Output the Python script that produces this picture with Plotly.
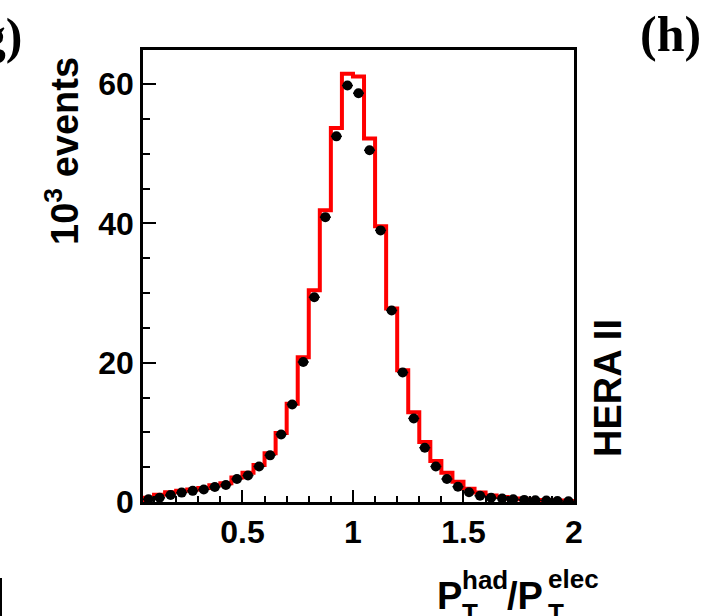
import plotly.graph_objects as go

# ---- data ----
bin_lo = 0.05
bin_width = 0.05
n_bins = 39
mc_hist = [0.6, 1.05, 1.4, 1.6, 1.8, 2.0, 2.4, 2.7, 3.5, 4.2, 5.3, 7.0, 9.9, 14.1,
           20.8, 30.4, 41.9, 53.7, 61.5, 61.1, 52.2, 39.6, 27.8, 18.9, 12.9, 8.6,
           5.9, 4.2, 2.9, 1.9, 1.35, 0.95, 0.7, 0.5, 0.4, 0.3, 0.25, 0.2, 0.15]
data_pts = [0.4, 0.6, 1.0, 1.35, 1.6, 1.8, 2.15, 2.45, 3.3, 3.8, 5.1, 6.7, 9.7, 14.0,
            20.1, 29.4, 40.9, 52.5, 59.8, 58.7, 50.5, 39.0, 27.5, 18.6, 12.0, 7.8,
            5.1, 3.3, 2.2, 1.4, 0.9, 0.6, 0.5, 0.4, 0.3, 0.25, 0.2, 0.15, 0.1]
x_tickvals = [0.5, 1, 1.5, 2]
x_ticktext = ["0.5", "1", "1.5", "2"]
y_tickvals = [0, 20, 40, 60]

edges = [bin_lo + i * bin_width for i in range(n_bins + 1)]
centers = [bin_lo + (i + 0.5) * bin_width for i in range(n_bins)]

# ---- layout geometry ----
W, H = 708, 616
L, R, T, B = 143, 574, 50, 502
PW, PH = R - L, B - T


def px(x):
    return (x - L) / PW


def py(y):
    return (B - y) / PH


SANS = "Liberation Sans"
SERIF = "Liberation Serif"

fig = go.Figure()

# MC histogram (red step line)
fig.add_trace(go.Scatter(
    x=[edges[0]] + edges,
    y=[0] + mc_hist + [mc_hist[-1]],
    mode="lines", line=dict(color="#ff0000", width=4, shape="hv"),
    showlegend=False, hoverinfo="skip"))

# data points
fig.add_trace(go.Scatter(
    x=centers, y=data_pts, mode="markers",
    marker=dict(color="black", size=10, symbol="circle"),
    error_x=dict(type="constant", value=bin_width / 2, thickness=1.5, width=0, color="black"),
    showlegend=False))

axis_common = dict(showline=True, linecolor="black", linewidth=2.5, mirror=True,
                   showgrid=False, zeroline=False, ticks="inside", tickcolor="black",
                   tickwidth=2,
                   tickfont=dict(family=SANS, size=32, color="black", weight="bold"))

fig.update_xaxes(range=[0.05, 2.0], tickvals=x_tickvals, ticktext=x_ticktext,
                 ticklen=12,
                 minor=dict(dtick=0.1, tick0=0, ticks="inside", ticklen=6,
                            tickwidth=2, tickcolor="black"),
                 **axis_common)
fig.update_yaxes(range=[0, 64.9], tickvals=y_tickvals, ticklen=13,
                 minor=dict(dtick=5, tick0=0, ticks="inside", ticklen=7,
                            tickwidth=2, tickcolor="black"),
                 **axis_common)

ann = []
# panel labels
ann.append(dict(text="(g)", x=px(24), y=py(36), xanchor="right", yanchor="middle",
                font=dict(family=SERIF, size=50, color="black", weight="bold")))
ann.append(dict(text="(h)", x=px(638), y=py(34), xanchor="left", yanchor="middle",
                font=dict(family=SERIF, size=50, color="black", weight="bold")))
# HERA II
ann.append(dict(text="HERA II", x=px(608), y=py(388), xanchor="center", yanchor="middle",
                textangle=-90,
                font=dict(family=SANS, size=38, color="black", weight="bold")))
# y title
ann.append(dict(text="10<sup>3</sup> events", x=px(62), y=py(151), xanchor="center",
                yanchor="middle", textangle=-90,
                font=dict(family=SANS, size=38, color="black", weight="bold")))
# x title pieces
big = dict(family=SANS, size=38, color="black", weight="bold")
small = dict(family=SANS, size=26, color="black", weight="bold")
ann.append(dict(text="P", x=px(435), y=py(596), xanchor="left", yanchor="middle", font=big))
ann.append(dict(text="had", x=px(460), y=py(580), xanchor="left", yanchor="middle", font=small))
ann.append(dict(text="T", x=px(460), y=py(613), xanchor="left", yanchor="middle", font=small))
ann.append(dict(text="/P", x=px(505), y=py(596), xanchor="left", yanchor="middle", font=big))
ann.append(dict(text="elec", x=px(546), y=py(579), xanchor="left", yanchor="middle", font=small))
ann.append(dict(text="T", x=px(546), y=py(613), xanchor="left", yanchor="middle", font=small))
for a in ann:
    a.update(xref="paper", yref="paper", showarrow=False)

fig.update_layout(
    width=W, height=H,
    margin=dict(l=L, r=W - R, t=T, b=H - B, pad=0),
    paper_bgcolor="white", plot_bgcolor="white",
    annotations=ann,
    shapes=[dict(type="line", xref="paper", yref="paper",
                 x0=px(1), x1=px(1), y0=py(578), y1=py(620),
                 line=dict(color="black", width=2))],
)

fig.write_html("out.html")
